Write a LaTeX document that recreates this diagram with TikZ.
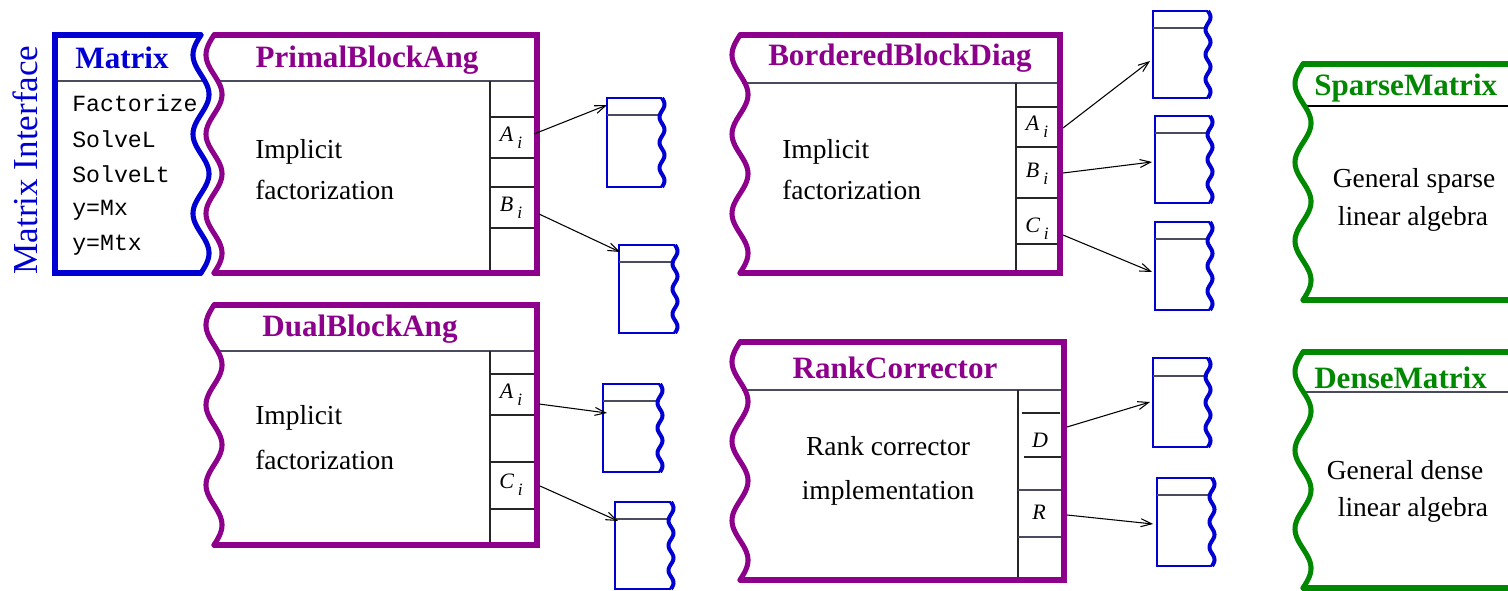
\documentclass[tikz,border=0pt]{standalone}
\usepackage{fontspec}
\setmainfont{Liberation Serif}
\setmonofont{Liberation Mono}
\usetikzlibrary{arrows.meta}
\definecolor{purp}{RGB}{140,0,140}
\definecolor{mblue}{RGB}{0,0,210}
\definecolor{mgreen}{RGB}{0,136,0}
\definecolor{sepc}{RGB}{75,75,95}
\newcommand{\bigwave}[5]{%
  \draw[edge, #1] plot[domain=#3:#4, samples=150, smooth, variable=\t]
    ({#2 - #5*sin(1080/(#4-#3)*(\t-#3))}, {\t});}
\newcommand{\smbox}[5]{% x1, x2, top, bottom, header
  \draw[line width=1.5pt, mblue] (#2,#3) -- (#1,#3) -- (#1,#4) -- (#2,#4);
  \draw[sepline] (#1,#5) -- (#2,#5);
  \draw[line width=3pt, mblue] plot[domain=#3:#4, samples=90, smooth, variable=\t]
    ({#2 + 2.5*sin(1260/(#4-#3)*(\t-#3))}, {\t});}
\newcommand{\lab}[2]{{\itshape #1}\hspace{3pt}\raisebox{-5pt}{\fontsize{13}{13}\selectfont\itshape #2}}
\tikzset{
  edge/.style={line width=3.8pt, line cap=round, line join=miter},
  sepline/.style={line width=1pt, sepc},
  cline/.style={line width=1pt, black!85},
  title/.style={font=\fontsize{23.3}{23.3}\selectfont\bfseries, inner sep=0pt},
  body/.style={font=\fontsize{20.6}{20.6}\selectfont, inner sep=0pt},
  meth/.style={font=\fontsize{17.4}{17.4}\selectfont\ttfamily, inner sep=0pt, anchor=west},
  comp/.style={font=\fontsize{16.5}{16.5}\selectfont, inner sep=0pt},
  arr/.style={line width=0.8pt, black, -{Straight Barb[length=8pt,width=6pt]}},
}
\begin{document}
\begin{tikzpicture}[x=0.75pt,y=-0.75pt]
\useasboundingbox (0,0) rectangle (1508,591);
\clip (0,0) rectangle (1508,591);
\fill[white] (0,0) rectangle (1508,591);

% ---------- Matrix Interface ----------
\node[rotate=90, font=\fontsize{26.3}{26.3}\selectfont, text=mblue, inner sep=0pt] (mi) at (25,160) {Matrix Interface};

% ---------- Matrix box ----------
\draw[sepline] (55,81) -- (203,81);
\draw[edge, mblue] (201,35) -- (55,35) -- (55,273) -- (201,273);
\bigwave{mblue}{201}{35}{273}{8}
\node[title, text=mblue] (mt) at (122,58) {Matrix};
\node[meth] (m1) at (72,103) {Factorize};
\node[meth] (m2) at (72,139) {SolveL};
\node[meth] (m3) at (72,174) {SolveLt};
\node[meth] (m4) at (72,210) {y=Mx};
\node[meth] (m5) at (72,245) {y=Mtx};

% ---------- PrimalBlockAng ----------
\draw[sepline] (216,81) -- (537,81);
\draw[cline] (490,81) -- (490,273);
\foreach \yy in {117,158,187,228} \draw[cline] (490,\yy) -- (537,\yy);
\draw[edge, purp] (214,35) -- (537,35) -- (537,273) -- (214,273);
\bigwave{purp}{214}{35}{273}{8}
\node[title, text=purp] (pt) at (367,60) {PrimalBlockAng};
\node[body, anchor=west] (p1) at (255,152) {Implicit};
\node[body, anchor=west] (p2) at (255,190) {factorization};
\node[comp] (pA) at (511,138) {\lab{A}{i}};
\node[comp] (pB) at (511,208) {\lab{B}{i}};
\coordinate (pAo) at (534,134);
\coordinate (pBo) at (539,214);

\smbox{607}{662}{98}{187}{115}
\smbox{619}{675}{245}{333}{262}
\coordinate (p1in) at (607,105);
\coordinate (p2in) at (620,252);
\draw[arr] (pAo) -- (p1in);
\draw[arr] (pBo) -- (p2in);

% ---------- DualBlockAng ----------
\draw[sepline] (216,351) -- (537,351);
\draw[cline] (490,351) -- (490,545);
\foreach \yy in {374,415,462,509} \draw[cline] (490,\yy) -- (537,\yy);
\draw[edge, purp] (214,305) -- (537,305) -- (537,545) -- (214,545);
\bigwave{purp}{214}{305}{545}{8}
\node[title, text=purp] (dt) at (360,329) {DualBlockAng};
\node[body, anchor=west] (d1) at (255,418) {Implicit};
\node[body, anchor=west] (d2) at (255,460) {factorization};
\node[comp] (dA) at (511,395) {\lab{A}{i}};
\node[comp] (dC) at (511,485) {\lab{C}{i}};
\coordinate (dAo) at (539,404);
\coordinate (dCo) at (540,486);

\smbox{603}{660}{384}{472}{401}
\smbox{615}{671}{502}{589}{519}
\coordinate (d1in) at (607,413);
\coordinate (d2in) at (618,521);
\draw[arr] (dAo) -- (d1in);
\draw[arr] (dCo) -- (d2in);

% ---------- BorderedBlockDiag ----------
\draw[sepline] (742,83) -- (1060,83);
\draw[cline] (1016,83) -- (1016,273);
\foreach \yy in {107,147,198,244} \draw[cline] (1016,\yy) -- (1060,\yy);
\draw[edge, purp] (740,35) -- (1060,35) -- (1060,273) -- (740,273);
\bigwave{purp}{740}{35}{273}{8}
\node[title, text=purp] (bt) at (900,58) {BorderedBlockDiag};
\node[body, anchor=west] (b1) at (782,152) {Implicit};
\node[body, anchor=west] (b2) at (782,190) {factorization};
\node[comp] (bA) at (1037,127) {\lab{A}{i}};
\node[comp] (bB) at (1037,174) {\lab{B}{i}};
\node[comp] (bC) at (1037,229) {\lab{C}{i}};
\coordinate (bAo) at (1063,128);
\coordinate (bBo) at (1063,173);
\coordinate (bCo) at (1063,235);

\smbox{1153}{1208}{11}{98}{28}
\smbox{1155}{1210}{116}{203}{133}
\smbox{1155}{1210}{222}{310}{239}
\coordinate (b1in) at (1150,61);
\coordinate (b2in) at (1152,162);
\coordinate (b3in) at (1152,272);
\draw[arr] (bAo) -- (b1in);
\draw[arr] (bBo) -- (b2in);
\draw[arr] (bCo) -- (b3in);

% ---------- RankCorrector ----------
\draw[sepline] (742,390) -- (1064,390);
\draw[cline] (1018,390) -- (1018,580);
\draw[cline] (1022,413) -- (1060,413);
\draw[cline] (1024,457) -- (1062,457);
\draw[sepline] (1018,490) -- (1064,490);
\draw[sepline] (1018,537) -- (1064,537);
\draw[edge, purp] (740,342) -- (1064,342) -- (1064,580) -- (740,580);
\bigwave{purp}{740}{342}{580}{8}
\node[title, text=purp] (rt) at (895,368) {RankCorrector};
\node[body] (r1) at (888,446) {Rank corrector};
\node[body] (r2) at (888,493) {implementation};
\node[comp] (rD) at (1040,440) {\itshape D};
\node[comp] (rR) at (1039,512) {\itshape R};
\coordinate (rDo) at (1067,427);
\coordinate (rRo) at (1067,515);

\smbox{1153}{1208}{358}{447}{376}
\smbox{1157}{1212}{478}{566}{495}
\coordinate (r1in) at (1150,402);
\coordinate (r2in) at (1153,524);
\draw[arr] (rDo) -- (r1in);
\draw[arr] (rRo) -- (r2in);

% ---------- SparseMatrix ----------
\draw[line width=1pt, black] (1305,106) -- (1520,106);
\draw[edge, mgreen] (1303,64) -- (1520,64);
\draw[edge, mgreen] (1303,300) -- (1520,300);
\bigwave{mgreen}{1303}{64}{300}{8}
\node[title, text=mgreen, anchor=west] (st) at (1314,88) {SparseMatrix};
\node[body] (s1) at (1414,181) {General sparse};
\node[body] (s2) at (1413,219) {linear algebra};

% ---------- DenseMatrix ----------
\draw[sepline] (1305,392) -- (1520,392);
\draw[edge, mgreen] (1303,352) -- (1520,352);
\draw[edge, mgreen] (1303,588) -- (1520,588);
\bigwave{mgreen}{1303}{352}{588}{8}
\node[title, text=mgreen, anchor=west] (dmt) at (1314,378) {DenseMatrix};
\node[body] (g1) at (1405,470) {General dense};
\node[body] (g2) at (1413,510) {linear algebra};
\end{tikzpicture}
\end{document}
